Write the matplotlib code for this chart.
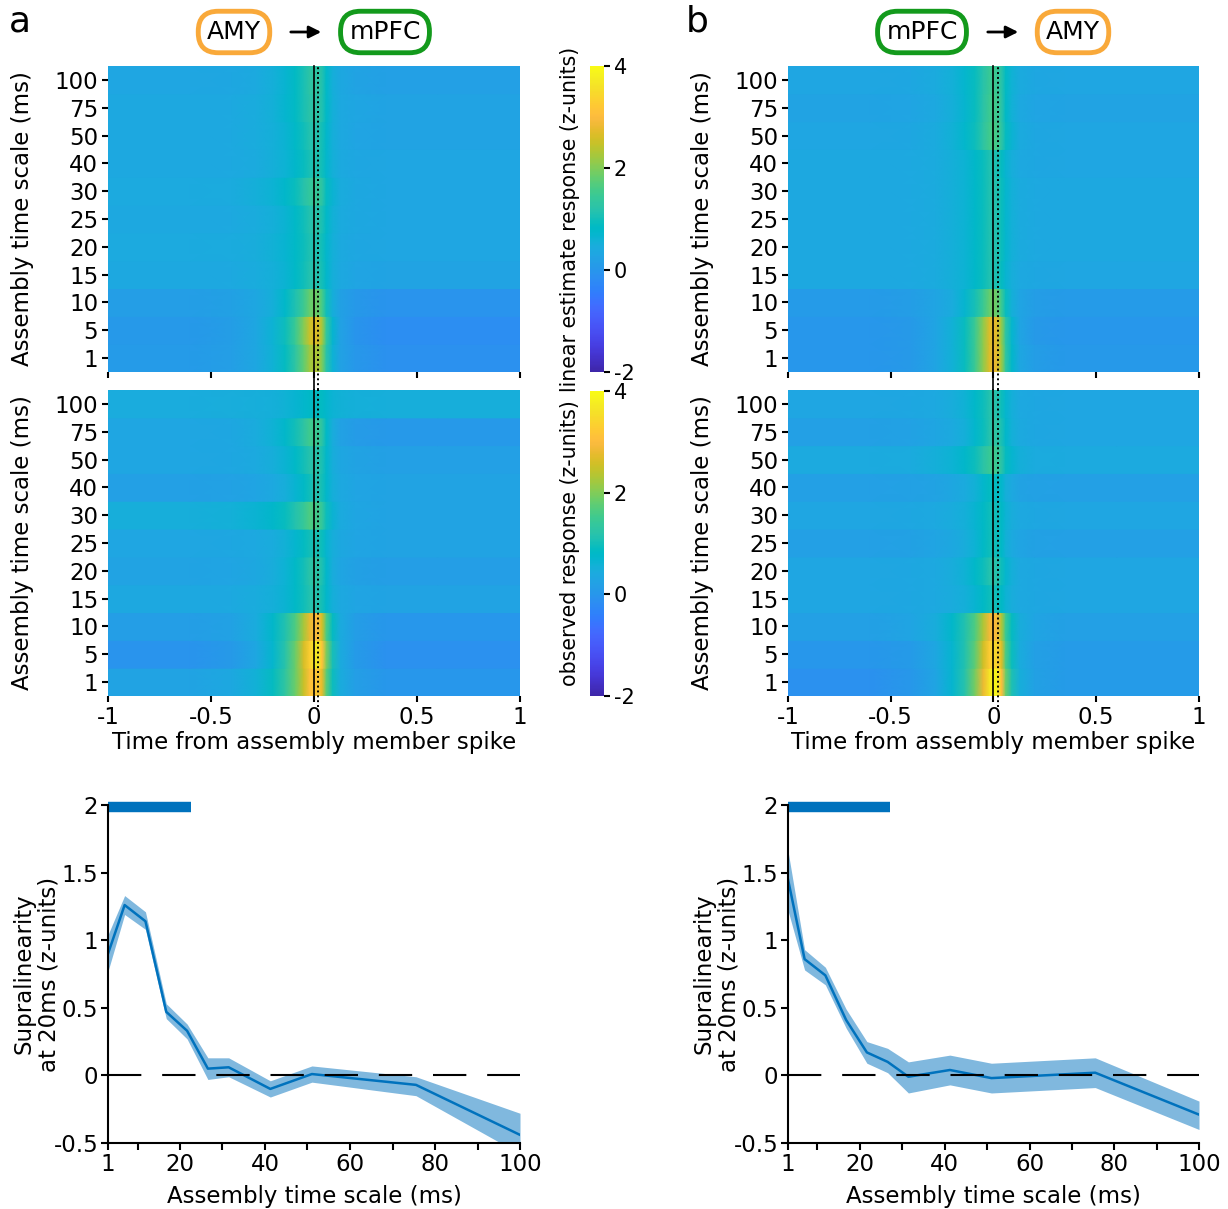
import numpy as np
import matplotlib
matplotlib.use("Agg")
from matplotlib import pyplot as plt
from matplotlib.colors import LinearSegmentedColormap, Normalize
from matplotlib.cm import ScalarMappable

plt.rcParams['font.family'] = 'DejaVu Sans'
plt.rcParams['axes.unicode_minus'] = False
plt.rcParams['font.size'] = 16.5

# MATLAB parula (64 entries)
parula_rgb = [
    [0.2422, 0.1504, 0.6603], [0.2504, 0.1650, 0.7076], [0.2578, 0.1818, 0.7511], [0.2647, 0.1978, 0.7952],
    [0.2706, 0.2147, 0.8364], [0.2751, 0.2342, 0.8710], [0.2783, 0.2559, 0.8991], [0.2803, 0.2782, 0.9221],
    [0.2813, 0.3006, 0.9414], [0.2810, 0.3228, 0.9579], [0.2795, 0.3447, 0.9717], [0.2760, 0.3667, 0.9829],
    [0.2699, 0.3892, 0.9906], [0.2602, 0.4123, 0.9952], [0.2440, 0.4358, 0.9988], [0.2206, 0.4603, 0.9973],
    [0.1963, 0.4847, 0.9892], [0.1834, 0.5074, 0.9798], [0.1786, 0.5289, 0.9682], [0.1764, 0.5499, 0.9520],
    [0.1687, 0.5703, 0.9359], [0.1540, 0.5902, 0.9218], [0.1460, 0.6091, 0.9079], [0.1380, 0.6276, 0.8973],
    [0.1248, 0.6459, 0.8883], [0.1113, 0.6635, 0.8763], [0.0952, 0.6798, 0.8598], [0.0689, 0.6948, 0.8394],
    [0.0297, 0.7082, 0.8163], [0.0036, 0.7203, 0.7917], [0.0067, 0.7312, 0.7660], [0.0433, 0.7411, 0.7394],
    [0.0964, 0.7500, 0.7120], [0.1408, 0.7584, 0.6842], [0.1717, 0.7670, 0.6554], [0.1938, 0.7758, 0.6251],
    [0.2161, 0.7843, 0.5923], [0.2470, 0.7918, 0.5567], [0.2906, 0.7973, 0.5188], [0.3406, 0.8008, 0.4789],
    [0.3909, 0.8029, 0.4354], [0.4456, 0.8024, 0.3909], [0.5044, 0.7993, 0.3480], [0.5616, 0.7942, 0.3045],
    [0.6174, 0.7876, 0.2612], [0.6720, 0.7793, 0.2227], [0.7242, 0.7698, 0.1910], [0.7738, 0.7598, 0.1646],
    [0.8203, 0.7498, 0.1535], [0.8634, 0.7406, 0.1596], [0.9035, 0.7330, 0.1774], [0.9393, 0.7288, 0.2100],
    [0.9728, 0.7298, 0.2394], [0.9956, 0.7434, 0.2371], [0.9970, 0.7659, 0.2199], [0.9952, 0.7893, 0.2028],
    [0.9892, 0.8136, 0.1885], [0.9786, 0.8386, 0.1766], [0.9676, 0.8639, 0.1643], [0.9610, 0.8890, 0.1537],
    [0.9597, 0.9135, 0.1423], [0.9628, 0.9373, 0.1265], [0.9691, 0.9606, 0.1064], [0.9769, 0.9839, 0.0805]]
parula = LinearSegmentedColormap.from_list('parula', parula_rgb)

# ---- heatmap data ----
rows_ms = [1, 5, 10, 15, 20, 25, 30, 40, 50, 75, 100]
t_anchor = [-1.0, -0.6, -0.4, -0.28, -0.2, -0.14, -0.09, -0.05, -0.02, 0.0, 0.02, 0.04, 0.06, 0.09, 0.13, 0.2, 0.35, 0.6, 1.0]
shape_a = [0, 0, 0.03, 0.1, 0.2, 0.33, 0.5, 0.7, 0.88, 1.0, 1.0, 0.85, 0.55, 0.3, 0.14, 0.05, 0, 0, 0]
shape_b = [0, 0, 0.03, 0.1, 0.2, 0.33, 0.52, 0.75, 0.95, 1.0, 0.95, 0.75, 0.45, 0.25, 0.1, 0.03, 0, 0, 0]

amp_lin_a = [2.4, 2.8, 1.9, 0.9, 0.8, 0.9, 1.1, 0.8, 0.9, 1.0, 1.1]
left_lin_a = [0.1, 0.05, 0.15, 0.35, 0.4, 0.35, 0.4, 0.35, 0.35, 0.35, 0.3]
right_lin_a = [-0.1, -0.15, -0.05, 0.25, 0.3, 0.3, 0.3, 0.3, 0.25, 0.25, 0.2]

amp_obs_a = [3.2, 3.8, 3.0, 0.9, 1.1, 0.8, 1.3, 0.9, 1.0, 1.4, 0.4]
left_obs_a = [0.25, -0.05, 0.15, 0.35, 0.25, 0.3, 0.5, 0.2, 0.3, 0.3, 0.45]
right_obs_a = [0.0, -0.1, 0.0, 0.25, 0.15, 0.25, 0.25, 0.25, 0.2, 0.05, 0.5]

amp_lin_b = [2.8, 2.8, 1.8, 0.8, 0.8, 0.8, 0.8, 0.8, 1.3, 1.3, 1.2]
left_lin_b = [0.0, 0.0, 0.1, 0.35, 0.35, 0.35, 0.35, 0.35, 0.3, 0.25, 0.3]
right_lin_b = [0.05, 0.0, 0.1, 0.3, 0.35, 0.35, 0.35, 0.3, 0.3, 0.25, 0.3]

amp_obs_b = [3.9, 3.4, 2.8, 0.7, 0.9, 0.8, 0.7, 0.7, 1.1, 1.0, 0.9]
left_obs_b = [-0.1, 0.0, 0.2, 0.3, 0.3, 0.2, 0.3, 0.2, 0.4, 0.2, 0.3]
right_obs_b = [0.1, 0.1, 0.2, 0.3, 0.3, 0.2, 0.3, 0.2, 0.4, 0.3, 0.3]

# ---- supralinearity data ----
t_scale = [1, 5, 10, 15, 20, 25, 30, 40, 50, 75, 100]
supra_a = [0.90, 1.26, 1.14, 0.47, 0.33, 0.05, 0.06, -0.10, 0.01, -0.07, -0.44]
lo_a = [0.77, 1.19, 1.08, 0.42, 0.27, -0.03, -0.01, -0.16, -0.05, -0.15, -0.58]
hi_a = [1.04, 1.33, 1.21, 0.53, 0.38, 0.13, 0.13, -0.04, 0.07, -0.01, -0.28]
supra_b = [1.45, 0.86, 0.74, 0.41, 0.17, 0.10, -0.01, 0.04, -0.02, 0.02, -0.29]
lo_b = [1.22, 0.78, 0.67, 0.35, 0.09, 0.02, -0.13, -0.07, -0.13, -0.09, -0.40]
hi_b = [1.66, 0.93, 0.80, 0.49, 0.25, 0.20, 0.10, 0.15, 0.09, 0.13, -0.19]
sig_a = [1, 21]
sig_b = [1, 25.5]

xtick_labels = ['1', '20', '40', '60', '80', '100']
xtick_pos = [1, 18.3, 38.7, 59.2, 79.6, 100]
xtick_minor = [8.1, 28.5, 48.9, 69.4, 89.8]

W, H = 1228, 1209
fig = plt.figure(figsize=(W / 100, H / 100), dpi=100)


def box(x0, y0, x1, y1):
    return [x0 / W, 1 - y1 / H, (x1 - x0) / W, (y1 - y0) / H]


line_blue = '#0072BD'
band_blue = '#80b8de'


def heatmap(ax, amp, left, right, shape, show_x):
    z = []
    for a, bl, br in zip(amp, left, right):
        base = np.where(np.array(t_anchor) < 0, bl, br)
        z.append(base + a * np.array(shape))
    z = np.repeat(np.array(z), 2, axis=0)
    yv = np.repeat(np.arange(len(rows_ms)), 2) + np.tile([-0.5, 0.5], len(rows_ms))
    X, Y = np.meshgrid(t_anchor, yv)
    ax.pcolormesh(X, Y, z, cmap=parula, vmin=-2, vmax=4, shading='gouraud')
    ax.set_xlim(-1, 1)
    ax.set_ylim(-0.5, len(rows_ms) - 0.5)
    ax.set_yticks(range(len(rows_ms)))
    ax.set_yticklabels([str(r) for r in rows_ms])
    ax.set_xticks([-1, -0.5, 0, 0.5, 1])
    if show_x:
        ax.set_xticklabels(['-1', '-0.5', '0', '0.5', '1'])
        ax.set_xlabel('Time from assembly member spike', labelpad=2)
    else:
        ax.set_xticklabels([])
    for s in ax.spines.values():
        s.set_visible(False)
    ax.tick_params(direction='out', length=4, width=1.5, pad=3)
    ax.set_ylabel('Assembly time scale (ms)')
    ax.yaxis.set_label_coords(-0.18, 0.5)


def supra_plot(ax, y, lo, hi, sig):
    ax.fill_between(t_scale, lo, hi, color=band_blue, lw=0)
    ax.plot(t_scale, y, color=line_blue, lw=1.8)
    ax.plot([1, 100], [0, 0], color='k', lw=1.5, dashes=(16, 10))
    ax.plot(sig, [1.985, 1.985], color=line_blue, lw=7.5, solid_capstyle='butt', clip_on=False)
    ax.set_xlim(1, 100)
    ax.set_ylim(-0.5, 2)
    ax.set_xticks(xtick_pos)
    ax.set_xticklabels(xtick_labels)
    ax.set_xticks(xtick_minor, minor=True)
    ax.set_yticks([-0.5, 0, 0.5, 1, 1.5, 2])
    ax.set_yticklabels(['-0.5', '0', '0.5', '1', '1.5', '2'])
    ax.spines['top'].set_visible(False)
    ax.spines['right'].set_visible(False)
    ax.spines['left'].set_linewidth(1.5)
    ax.spines['bottom'].set_linewidth(1.5)
    ax.tick_params(which='both', direction='out', length=5, width=1.5, pad=2)
    ax.set_xlabel('Assembly time scale (ms)', labelpad=7)
    ax.set_ylabel('Supralinearity\nat 20ms (z-units)', linespacing=1.1)
    ax.yaxis.set_label_coords(-0.115, 0.5)


panels = [
    (108, 520, amp_lin_a, left_lin_a, right_lin_a, amp_obs_a, left_obs_a, right_obs_a, shape_a),
    (788, 1199, amp_lin_b, left_lin_b, right_lin_b, amp_obs_b, left_obs_b, right_obs_b, shape_b),
]
for x0, x1, al, ll, rl, ao, lo_, ro, shp in panels:
    ax_top = fig.add_axes(box(x0, 66, x1, 372))
    heatmap(ax_top, al, ll, rl, shp, False)
    ax_bot = fig.add_axes(box(x0, 390, x1, 696))
    heatmap(ax_bot, ao, lo_, ro, shp, True)
    ax_top.axvline(0, ymin=-0.06, ymax=1, color='k', lw=1.2, clip_on=False)
    ax_top.axvline(0.02, ymin=-0.06, ymax=1, color='k', lw=1.4, ls=(0, (1, 1.5)), clip_on=False)
    ax_bot.axvline(0, ymin=0, ymax=1, color='k', lw=1.2, clip_on=False)
    ax_bot.axvline(0.02, ymin=-0.035, ymax=1, color='k', lw=1.4, ls=(0, (1, 1.5)), clip_on=False)

ax_sa = fig.add_axes(box(108, 805, 520, 1143))
supra_plot(ax_sa, supra_a, lo_a, hi_a, sig_a)
ax_sb = fig.add_axes(box(788, 805, 1199, 1143))
supra_plot(ax_sb, supra_b, lo_b, hi_b, sig_b)

# colorbars
sm = ScalarMappable(norm=Normalize(-2, 4), cmap=parula)
for y0, y1, lab in [(66, 372, 'linear estimate response (z-units)'),
                    (391, 696, 'observed response (z-units)')]:
    cax = fig.add_axes(box(590, y0, 604, y1))
    cb = fig.colorbar(sm, cax=cax, ticks=[-2, 0, 2, 4])
    cb.outline.set_visible(False)
    cb.ax.tick_params(direction='out', length=4, width=1.5, pad=3, labelsize=15)
    cb.ax.set_yticklabels(['-2', '0', '2', '4'])
    cb.ax.yaxis.set_label_position('left')
    cb.set_label(lab, fontsize=14.8)
    cb.ax.yaxis.set_label_coords(-0.75, 0.5)

# header boxes
orange = '#f9a93a'
green = '#139a1c'
hy = 1 - 32 / H
for label, cx, col in [('AMY', 234, orange), ('mPFC', 385, green), ('mPFC', 922, green), ('AMY', 1073, orange)]:
    fig.text(cx / W, hy, label, ha='center', va='center', fontsize=18,
             bbox=dict(boxstyle='round,pad=0.35,rounding_size=0.8', fc='white', ec=col, lw=3.5))
for xa, xb in [(288, 324), (985, 1021)]:
    fig.add_artist(matplotlib.patches.FancyArrowPatch((xa / W, hy), (xb / W, hy), transform=fig.transFigure,
                                                      arrowstyle='-|>', mutation_scale=18, color='k', lw=2))

fig.text(20 / W, 1 - 22 / H, 'a', fontsize=26, ha='center', va='center')
fig.text(697 / W, 1 - 22 / H, 'b', fontsize=26, ha='center', va='center')

plt.savefig('out.png', dpi=100)
